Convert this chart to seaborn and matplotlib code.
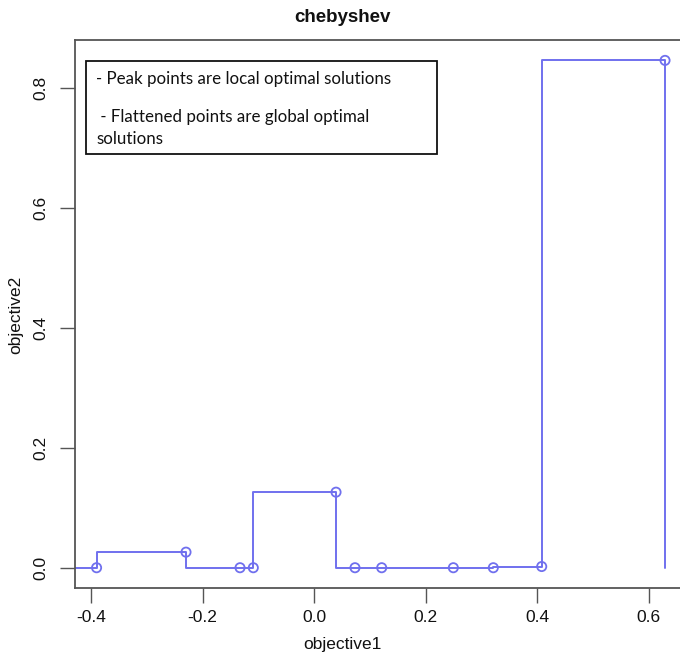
import matplotlib
matplotlib.use("Agg")
import matplotlib.pyplot as plt
from matplotlib.patches import Rectangle
import seaborn as sns
import pandas as pd

# ---- data ----
objective1 = [-0.4500, -0.3900, -0.2296, -0.1327, -0.1089, 0.0395, 0.0735,
              0.1214, 0.2499, 0.3216, 0.4084, 0.6296, 0.6296]
objective2 = [0.000, 0.000, 0.026, 0.000, 0.000, 0.126, 0.000,
              0.000, 0.000, 0.000, 0.002, 0.846, 0.000]
marked = [False, True, True, True, True, True, True,
          True, True, True, True, True, False]
x_ticks = [-0.4, -0.2, 0.0, 0.2, 0.4, 0.6]
y_ticks = [0.0, 0.2, 0.4, 0.6, 0.8]
title = "chebyshev"
note_lines = ["- Peak points are local optimal solutions",
              " - Flattened points are global optimal",
              "solutions"]

df = pd.DataFrame({"objective1": objective1, "objective2": objective2, "marked": marked})
pts = df[df["marked"]]

sns.set_style("white")
plt.rcParams["font.family"] = ["Liberation Sans", "DejaVu Sans"]

W, H = 680, 655
fig = plt.figure(figsize=(W / 100, H / 100), dpi=100)
ax = fig.add_axes([75 / W, (H - 588) / H, 613 / W, (588 - 40) / H])

col = "#7070ee"
sns.lineplot(data=df, x="objective1", y="objective2", sort=False, estimator=None,
             drawstyle="steps-pre", color=col, linewidth=1.4, ax=ax)
sns.scatterplot(data=pts, x="objective1", y="objective2", ax=ax, s=44,
                facecolors="none", edgecolor=col, linewidth=1.3, zorder=3)

ax.set_xlim(-0.4287, 0.6708)
ax.set_ylim(-0.0338, 0.880)
ax.set_xticks(x_ticks)
ax.set_xticklabels([f"{v:.1f}" for v in x_ticks])
ax.set_yticks(y_ticks)
ax.set_yticklabels([f"{v:.1f}" for v in y_ticks], rotation=90, va="center")
ax.tick_params(axis="both", direction="out", length=11, width=1.0, color="#555555",
               labelsize=12.5, labelcolor="#111111", bottom=True, left=True)
ax.tick_params(axis="x", pad=5)
ax.tick_params(axis="y", pad=8)
for s in ax.spines.values():
    s.set_color("#555555")
    s.set_linewidth(1.3)
ax.set_xlabel("")
ax.set_ylabel("")

fig.text(342 / W, 1 - 18 / H, title, ha="center", va="center",
         fontsize=13.5, fontweight="bold", color="#111111")
fig.text(342 / W, 1 - 645 / H, "objective1", ha="center", va="center",
         fontsize=12.5, color="#111111")
fig.text(16 / W, 1 - 315 / H, "objective2", ha="center", va="center",
         fontsize=12.5, rotation=90, color="#111111")

# annotation box
fig.patches.append(Rectangle((86 / W, 1 - 154 / H), 351 / W, 93.3 / H,
                             transform=fig.transFigure, fill=True, facecolor="white",
                             edgecolor="#111111", linewidth=1.3, zorder=5))
ys = [79, 117, 139]
for txt, yy in zip(note_lines, ys):
    fig.text(96 / W, 1 - yy / H, txt, ha="left", va="center", fontsize=12.2,
             family=["Lato", "DejaVu Sans"], color="#111111", zorder=6)

fig.savefig("out.png", dpi=100)
